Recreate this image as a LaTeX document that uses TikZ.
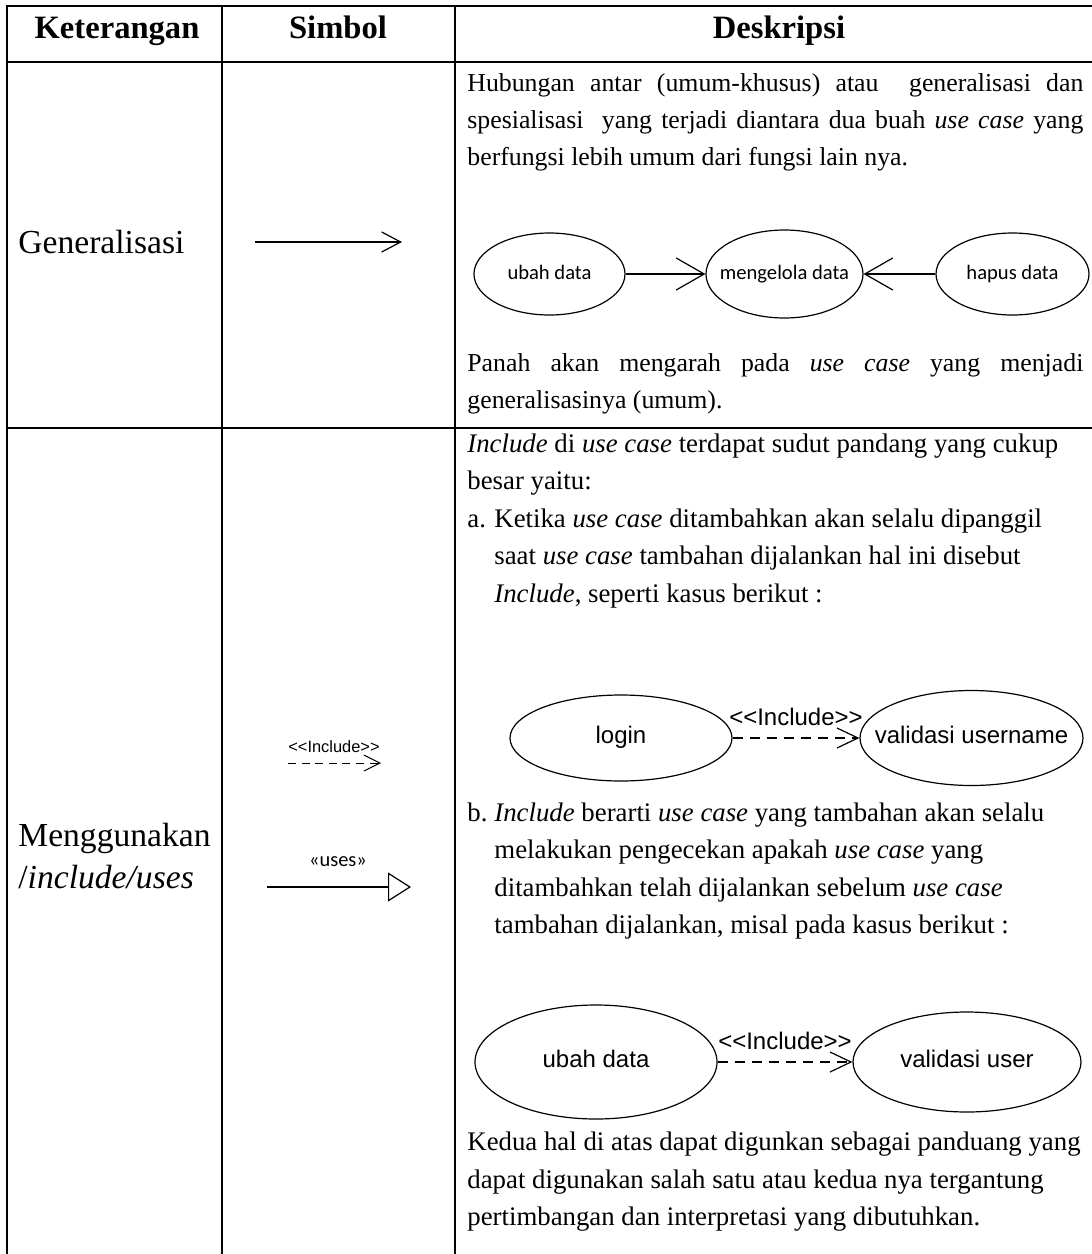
\documentclass[tikz,border=0pt]{standalone}
\usepackage{fontspec}
\setmainfont{Liberation Serif}
\newfontfamily\calibrifont{Carlito}
\newfontfamily\arialfont{Liberation Sans}
\usetikzlibrary{shapes.geometric,arrows.meta}

\tikzset{
  tabline/.style={line width=1.3pt, line cap=rect},
  headtext/.style={anchor=base, inner sep=0pt, font=\fontsize{16.3}{20}\selectfont\bfseries},
  rowtext/.style={anchor=base west, inner sep=0pt, font=\fontsize{16.8}{20}\selectfont},
  desctext/.style={anchor=base west, inner sep=0pt, font=\fontsize{12.9}{15}\selectfont},
  desctextb/.style={anchor=base west, inner sep=0pt, font=\fontsize{13.4}{16}\selectfont},
  usecase/.style={draw, ellipse, line width=0.6pt, inner sep=-14pt, text height=1.6ex, text depth=0.4ex,
    font=\calibrifont\fontsize{10.3}{12}\selectfont},
  incase/.style={draw, ellipse, line width=0.6pt, inner sep=-14pt, text height=1.6ex, text depth=0.4ex,
    font=\arialfont\fontsize{12}{14}\selectfont},
  genarrow/.style={line width=0.6pt, -{Straight Barb[length=14pt,width=16pt]}},
  incarrow/.style={line width=0.6pt, dash pattern=on 5pt off 3.5pt, -{Straight Barb[length=10.5pt,width=10pt]}},
  inclabel/.style={midway, anchor=base, inner sep=0pt, yshift=6.5pt, font=\arialfont\fontsize{12}{14}\selectfont},
}

\newcommand{\descline}[1]{\makebox[308pt][s]{#1}}

\begin{document}
\begin{tikzpicture}[x=0.5pt,y=-0.5pt]
\useasboundingbox (0,0) rectangle (1092,1254);

% Drawing table lines
\draw[tabline] (7,6) -- (1092,6);
\draw[tabline] (7,62) -- (1092,62);
\draw[tabline] (7,428) -- (1092,428);
\draw[tabline] (7,6) -- (7,1256);
\draw[tabline] (222,6) -- (222,1256);
\draw[tabline] (455,6) -- (455,1256);

% Header
\node[headtext] (hket) at (117,38) {Keterangan};
\node[headtext] (hsim) at (338,38) {Simbol};
\node[headtext] (hdes) at (779,38) {Deskripsi};

% Row generalisasi
\node[rowtext] (lgen) at (18,253) {Generalisasi};
\coordinate (genstart) at (255,242);
\coordinate (genend) at (402,242);
\draw[line width=0.6pt, -{Straight Barb[length=9.5pt,width=10pt]}] (genstart) -- (genend);

\node[desctext] (d1) at (467,91) {\descline{Hubungan antar (umum-khusus) atau\ \ generalisasi dan}};
\node[desctext] (d2) at (467,128) {\descline{spesialisasi\ \ yang terjadi diantara dua buah \textit{use case} yang}};
\node[desctext] (d3) at (467,165) {berfungsi lebih umum dari fungsi lain nya.};

\node[usecase, minimum width=75.5pt, minimum height=41pt] (ubah) at (549.5,274) {ubah data};
\node[usecase, minimum width=78.5pt, minimum height=44pt] (kelola) at (784.5,274) {mengelola data};
\node[usecase, minimum width=76.5pt, minimum height=41pt] (hapus) at (1012.5,274) {hapus data};
\draw[genarrow] (ubah) -- (kelola);
\draw[genarrow] (hapus) -- (kelola);

\node[desctext] (d4) at (467,371) {\descline{Panah akan mengarah pada \textit{use case} yang menjadi}};
\node[desctext] (d5) at (467,408) {generalisasinya (umum).};

% Row include/uses
\node[rowtext] (linc1) at (18,846) {Menggunakan};
\node[rowtext] (linc2) at (18,888) {/\textit{include/uses}};

\node[anchor=center, inner sep=0pt, font=\arialfont\fontsize{8.2}{10}\selectfont] (incsym) at (334,747) {\textless\textless Include\textgreater\textgreater};
\coordinate (incstart) at (288,763);
\coordinate (incend) at (381,763);
\draw[line width=0.5pt, dash pattern=on 4pt off 2.8pt, -{Straight Barb[length=8pt,width=8pt]}] (incstart) -- (incend);

\node[anchor=center, inner sep=0pt, font=\calibrifont\fontsize{10.2}{12}\selectfont] (usessym) at (338,862) {«uses»};
\coordinate (usesstart) at (267,887);
\coordinate (usesend) at (411,887);
\draw[line width=0.6pt, -{Triangle[open,length=11.5pt,width=14.5pt]}] (usesstart) -- (usesend);

\node[desctextb] (e1) at (467,452) {\textit{Include} di \textit{use case} terdapat sudut pandang yang cukup};
\node[desctextb] (e2) at (467,489.5) {besar yaitu:};
\node[desctextb] (ea) at (467,527) {a.};
\node[desctextb] (e3) at (494,527) {Ketika \textit{use case} ditambahkan akan selalu dipanggil};
\node[desctextb] (e4) at (494,564.5) {saat \textit{use case} tambahan dijalankan hal ini disebut};
\node[desctextb] (e5) at (494,602) {\textit{Include}, seperti kasus berikut :};

\node[incase, minimum width=111pt, minimum height=43pt] (login) at (621,738) {login};
\node[incase, minimum width=111.5pt, minimum height=47.5pt] (valname) at (971.5,738) {validasi username};
\draw[incarrow] (login) -- (valname) node[inclabel] {\textless\textless Include\textgreater\textgreater};

\node[desctextb] (eb) at (467,821) {b.};
\node[desctextb] (e6) at (494,821) {\textit{Include} berarti \textit{use case} yang tambahan akan selalu};
\node[desctextb] (e7) at (494,858.5) {melakukan pengecekan apakah \textit{use case} yang};
\node[desctextb] (e8) at (494,896) {ditambahkan telah dijalankan sebelum \textit{use case}};
\node[desctextb] (e9) at (494,933.5) {tambahan dijalankan, misal pada kasus berikut :};

\node[incase, minimum width=121pt, minimum height=57pt] (ubahb) at (596,1062) {ubah data};
\node[incase, minimum width=114pt, minimum height=50pt] (valuser) at (967,1062) {validasi user};
\draw[incarrow] (ubahb) -- (valuser) node[inclabel] {\textless\textless Include\textgreater\textgreater};

\node[desctextb] (e10) at (467,1150.5) {Kedua hal di atas dapat digunkan sebagai panduang yang};
\node[desctextb] (e11) at (467,1188) {dapat digunakan salah satu atau kedua nya tergantung};
\node[desctextb] (e12) at (467,1225.5) {pertimbangan dan interpretasi yang dibutuhkan.};
\end{tikzpicture}
\end{document}
